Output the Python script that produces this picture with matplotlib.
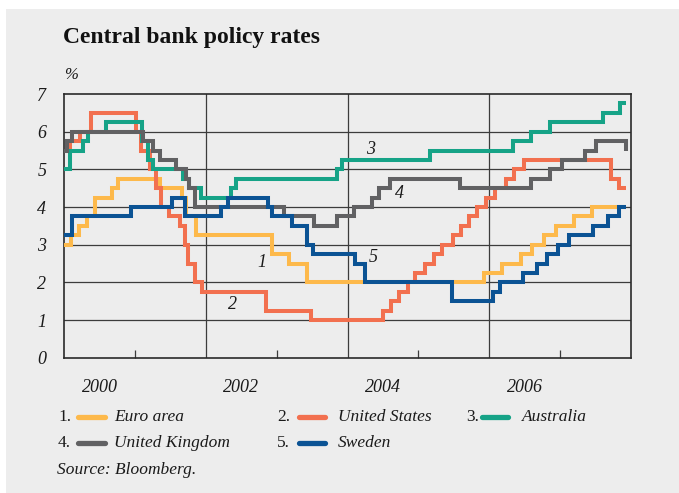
import matplotlib
matplotlib.use("Agg")
import matplotlib.pyplot as plt
from matplotlib.lines import Line2D
from matplotlib.patches import Rectangle
import datetime as dt

# ---------------- data ----------------
END_DATE = "2007-12-08"

euro_dates = ["2000-01-01", "2000-02-04", "2000-03-17", "2000-04-28", "2000-06-09",
              "2000-09-01", "2000-10-06", "2001-05-11", "2001-08-31", "2001-09-18",
              "2001-11-09", "2002-12-06", "2003-03-07", "2003-06-06", "2005-12-06",
              "2006-03-08", "2006-06-15", "2006-08-09", "2006-10-11", "2006-12-13",
              "2007-03-14", "2007-06-13"]
euro_rates = [3.00, 3.25, 3.50, 3.75, 4.25, 4.50, 4.75, 4.50, 4.25, 3.75, 3.25, 2.75,
              2.50, 2.00, 2.25, 2.50, 2.75, 3.00, 3.25, 3.50, 3.75, 4.00]

us_dates = ["2000-01-01", "2000-02-02", "2000-03-21", "2000-05-16", "2001-01-03",
            "2001-01-31", "2001-03-20", "2001-04-18", "2001-05-15", "2001-06-27",
            "2001-08-21", "2001-09-17", "2001-10-02", "2001-11-06", "2001-12-11",
            "2002-11-06", "2003-06-25", "2004-06-30", "2004-08-10", "2004-09-21",
            "2004-11-10", "2004-12-14", "2005-02-02", "2005-03-22", "2005-05-03",
            "2005-06-30", "2005-08-09", "2005-09-20", "2005-11-01", "2005-12-13",
            "2006-01-31", "2006-03-28", "2006-05-10", "2006-06-29", "2007-09-18",
            "2007-10-31"]
us_rates = [5.50, 5.75, 6.00, 6.50, 6.00, 5.50, 5.00, 4.50, 4.00, 3.75, 3.50, 3.00,
            2.50, 2.00, 1.75, 1.25, 1.00, 1.25, 1.50, 1.75, 2.00, 2.25, 2.50, 2.75,
            3.00, 3.25, 3.50, 3.75, 4.00, 4.25, 4.50, 4.75, 5.00, 5.25, 4.75, 4.50]

aus_dates = ["2000-01-01", "2000-02-02", "2000-04-05", "2000-05-03", "2000-08-02",
             "2001-02-07", "2001-03-07", "2001-04-04", "2001-09-05", "2001-10-03",
             "2001-12-05", "2002-05-08", "2002-06-05", "2003-11-05", "2003-12-03",
             "2005-03-02", "2006-05-03", "2006-08-02", "2006-11-08", "2007-08-08",
             "2007-11-07"]
aus_rates = [5.00, 5.50, 5.75, 6.00, 6.25, 5.75, 5.25, 5.00, 4.75, 4.50, 4.25, 4.50,
             4.75, 5.00, 5.25, 5.50, 5.75, 6.00, 6.25, 6.50, 6.75]

uk_dates = ["2000-01-01", "2000-01-13", "2000-02-10", "2001-02-08", "2001-04-05",
            "2001-05-10", "2001-08-02", "2001-09-18", "2001-10-04", "2001-11-08",
            "2003-02-06", "2003-07-10", "2003-11-06", "2004-02-05", "2004-05-06",
            "2004-06-10", "2004-08-05", "2005-08-04", "2006-08-03", "2006-11-09",
            "2007-01-11", "2007-05-10", "2007-07-05", "2007-12-06"]
uk_rates = [5.50, 5.75, 6.00, 5.75, 5.50, 5.25, 5.00, 4.75, 4.50, 4.00, 3.75, 3.50,
            3.75, 4.00, 4.25, 4.50, 4.75, 4.50, 4.75, 5.00, 5.25, 5.50, 5.75, 5.50]

se_dates = ["2000-01-01", "2000-02-09", "2000-12-13", "2001-07-11", "2001-09-17",
            "2002-03-19", "2002-04-26", "2002-11-15", "2002-12-05", "2003-03-18",
            "2003-06-05", "2003-07-04", "2004-02-06", "2004-04-01", "2005-06-21",
            "2006-01-20", "2006-02-27", "2006-06-21", "2006-09-05", "2006-10-27",
            "2006-12-20", "2007-02-16", "2007-06-21", "2007-09-06", "2007-10-30"]
se_rates = [3.25, 3.75, 4.00, 4.25, 3.75, 4.00, 4.25, 4.00, 3.75, 3.50, 3.00, 2.75,
            2.50, 2.00, 1.50, 1.75, 2.00, 2.25, 2.50, 2.75, 3.00, 3.25, 3.50, 3.75, 4.00]

series_names = ["Euro area", "United States", "Australia", "United Kingdom", "Sweden"]
series_colors = ["#FDB94B", "#F2704F", "#16A387", "#616163", "#0B5394"]
series_dates = [euro_dates, us_dates, aus_dates, uk_dates, se_dates]
series_rates = [euro_rates, us_rates, aus_rates, uk_rates, se_rates]

year_labels = ["2000", "2002", "2004", "2006"]
ytick_values = [0, 1, 2, 3, 4, 5, 6, 7]

# line number labels: (x, y) in data coordinates
label_pos = {"1": (2002.79, 2.54), "2": (2002.38, 1.42), "3": (2004.33, 5.52),
             "4": (2004.73, 4.37), "5": (2004.36, 2.65)}


def dec_year(s):
    d = dt.date.fromisoformat(s)
    start = dt.date(d.year, 1, 1)
    nxt = dt.date(d.year + 1, 1, 1)
    return d.year + (d - start).days / (nxt - start).days


# ---------------- figure ----------------
BG = "#EDEDED"
GRID = "#3C3C3C"
SERIF = ["Liberation Serif", "DejaVu Serif"]

fig = plt.figure(figsize=(6.79, 4.93), dpi=100, facecolor="white")
fig.patches.append(Rectangle((6 / 679, 0), 1, 1 - 9 / 493, transform=fig.transFigure,
                             facecolor=BG, edgecolor="none", zorder=-10))

ax = fig.add_axes([64.3 / 679, 1 - 357.7 / 493, (631 - 64.3) / 679, (357.7 - 94) / 493])
ax.set_facecolor(BG)

end_x = dec_year(END_DATE)
for i, (dates, rates, col) in enumerate(zip(series_dates, series_rates, series_colors)):
    xs = [dec_year(d) for d in dates] + [end_x]
    ys = list(rates) + [rates[-1]]
    ax.step(xs, ys, where="post", color=col, lw=2.9, zorder=3 + i,
            solid_joinstyle="miter", solid_capstyle="butt")

ax.set_xlim(2000, 2008)
ax.set_ylim(0, 7)

for y in ytick_values[1:-1]:
    ax.axhline(y, color=GRID, lw=0.9, zorder=1)
for x in [2002, 2004, 2006]:
    ax.axvline(x, color=GRID, lw=0.9, zorder=1)

for sp in ax.spines.values():
    sp.set_color("#2A2A2A")
    sp.set_linewidth(1.2)

ax.set_xticks([2000.5, 2002.5, 2004.5, 2006.5])
ax.set_xticklabels(year_labels)
ax.set_xticks([2001, 2003, 2005, 2007], minor=True)
ax.tick_params(axis="x", which="major", length=0, pad=15)
ax.tick_params(axis="x", which="minor", length=6, width=0.9, direction="in", color=GRID)
ax.set_yticks(ytick_values)
ax.set_yticklabels([str(v) for v in ytick_values])
ax.tick_params(axis="y", length=0, pad=13)
for lab in ax.get_xticklabels() + ax.get_yticklabels():
    lab.set_fontfamily(SERIF)
    lab.set_fontstyle("italic")
    lab.set_fontsize(13)
    lab.set_color("#1A1A1A")

for k, (x, y) in label_pos.items():
    ax.text(x, y, k, fontfamily=SERIF, fontstyle="italic", fontsize=13,
            ha="center", va="center", color="#1A1A1A", zorder=10)

# title and unit
fig.text(63 / 679, 1 - 37 / 493, "Central bank policy rates", fontfamily=SERIF,
         fontweight="bold", fontsize=17, ha="left", va="center", color="#111111")
fig.text(64 / 679, 1 - 75 / 493, "%", fontfamily=SERIF, fontstyle="italic",
         fontsize=12, ha="left", va="center", color="#1A1A1A")

# legend
legend_items = [
    ("1.", 58, 78, 105, 114, 417),
    ("2.", 277, 299, 325, 338, 417),
    ("3.", 466, 482, 508, 522, 417),
    ("4.", 58, 78, 105, 114, 443),
    ("5.", 277, 299, 325, 338, 443),
]
for (num, xn, xs0, xs1, xt, yy), name, col in zip(legend_items, series_names, series_colors):
    fy = 1 - yy / 493
    fig.text(xn / 679, fy, num, fontfamily=SERIF, fontsize=12.5, ha="left", va="center",
             color="#1A1A1A")
    fig.add_artist(Line2D([xs0 / 679, xs1 / 679], [fy, fy], transform=fig.transFigure,
                          color=col, lw=3.8, solid_capstyle="round"))
    fig.text(xt / 679, fy, name, fontfamily=SERIF, fontstyle="italic", fontsize=12.5,
             ha="left", va="center", color="#1A1A1A")

fig.text(57 / 679, 1 - 470 / 493, "Source: Bloomberg.", fontfamily=SERIF,
         fontstyle="italic", fontsize=12.5, ha="left", va="center", color="#1A1A1A")

fig.savefig("out.png", dpi=100, facecolor="white")
